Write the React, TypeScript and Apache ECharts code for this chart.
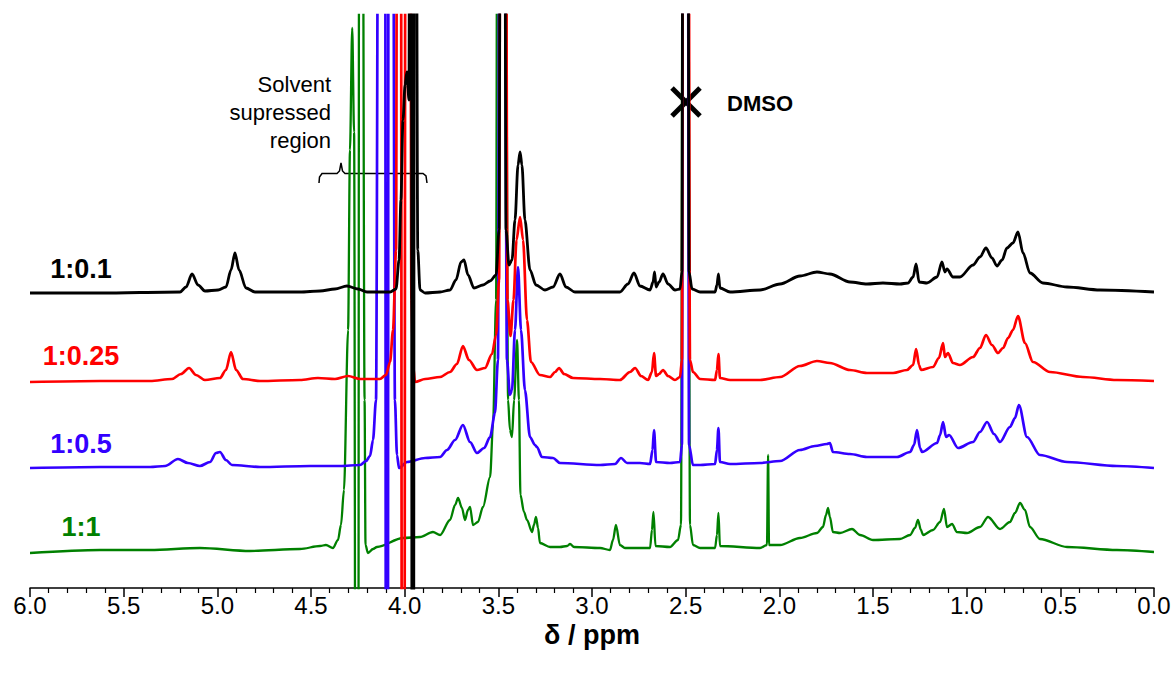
import React, { useEffect, useRef } from "react";
import * as echarts from "echarts";

// Series labels, colours and vertical stacking offsets (intensity units)
const traceLabels = ["1:0.1", "1:0.25", "1:0.5", "1:1"];
const traceColors = ["#000000", "#ff0000", "#3300ff", "#008000"];
const traceOffsets = [295, 207, 121, 36];

// [ppm, relative intensity]; +/-900 = off-scale (solvent suppressed / DMSO)
const trace01: [number, number][] = [
  [6.0, 0], [5.626, 0], [5.199, 1], [5.167, 6], [5.135, 19], [5.103, 8], [5.066, 2], [4.996, 3], [4.954, 6],
  [4.927, 23], [4.906, 40], [4.884, 23], [4.847, 5], [4.799, 1], [4.559, 1], [4.452, 2], [4.372, 4], [4.308, 7],
  [4.249, 4], [4.201, 1], [4.078, 1], [4.046, 4], [4.03, 33], [4.02, 93], [4.009, 173], [3.998, 208], [3.988, 221],
  [3.977, 193], [3.971, 900], [3.965, 900], [3.96, -900], [3.953, -900], [3.948, 900], [3.943, 900], [3.93, 43],
  [3.918, 3], [3.891, 0], [3.811, 1], [3.758, 3], [3.726, 13], [3.699, 31], [3.683, 33], [3.662, 18], [3.63, 5],
  [3.582, 8], [3.544, 12], [3.512, 18], [3.496, 63], [3.486, 900], [3.47, 900], [3.459, 63], [3.443, 28], [3.427, 33],
  [3.411, 73], [3.395, 128], [3.384, 141], [3.374, 128], [3.358, 73], [3.331, 23], [3.299, 8], [3.251, 3], [3.208, 6],
  [3.171, 19], [3.139, 6], [3.091, 1], [2.851, 1], [2.808, 9], [2.776, 20], [2.744, 7], [2.69, 3], [2.674, 11],
  [2.666, 21], [2.658, 6], [2.642, 11], [2.621, 19], [2.594, 9], [2.557, 3], [2.53, 4], [2.52, 21], [2.512, 900],
  [2.49, 900], [2.482, 21], [2.466, 4], [2.423, 1], [2.343, 1], [2.333, 8], [2.325, 19], [2.317, 5], [2.263, 1],
  [2.103, 3], [1.996, 9], [1.89, 17], [1.799, 21], [1.73, 19], [1.623, 11], [1.532, 9], [1.447, 10], [1.356, 9],
  [1.313, 10], [1.286, 16], [1.27, 29], [1.254, 11], [1.212, 10], [1.158, 16], [1.132, 31], [1.116, 21], [1.105, 24],
  [1.073, 16], [1.036, 16], [0.966, 28], [0.929, 36], [0.897, 45], [0.865, 35], [0.838, 27], [0.811, 33], [0.785, 45],
  [0.753, 50], [0.726, 61], [0.699, 40], [0.662, 20], [0.593, 10], [0.464, 6], [0.288, 3], [0.0, 1],
];

const trace025: [number, number][] = [
  [6.0, -1], [5.626, 0], [5.359, 0], [5.242, 2], [5.194, 7], [5.151, 13], [5.114, 6], [5.066, 1], [4.986, 3],
  [4.954, 11], [4.927, 29], [4.9, 11], [4.863, 2], [4.772, 0], [4.559, 1], [4.463, 3], [4.372, 2], [4.302, 5],
  [4.238, 2], [4.132, 2], [4.1, 6], [4.078, 19], [4.062, 51], [4.046, 131], [4.038, 900], [4.022, 900], [4.012, -900],
  [4.004, -900], [3.994, 900], [3.972, 900], [3.964, 81], [3.955, 16], [3.945, -1], [3.891, 2], [3.811, 4],
  [3.758, 9], [3.721, 17], [3.689, 35], [3.657, 21], [3.614, 11], [3.571, 13], [3.534, 27], [3.512, 46], [3.496, 101],
  [3.486, 900], [3.464, 900], [3.451, 81], [3.435, 45], [3.419, 81], [3.403, 141], [3.384, 164], [3.368, 141],
  [3.347, 61], [3.326, 19], [3.278, 6], [3.224, 4], [3.197, 9], [3.176, 13], [3.149, 7], [3.101, 3], [2.957, 2],
  [2.851, 1], [2.797, 9], [2.77, 13], [2.738, 5], [2.701, 1], [2.68, 9], [2.669, 28], [2.658, 5], [2.642, 7],
  [2.621, 11], [2.594, 5], [2.557, 1], [2.53, 4], [2.52, 21], [2.512, 900], [2.488, 900], [2.477, 21], [2.461, 9],
  [2.423, 2], [2.343, 1], [2.333, 11], [2.325, 27], [2.317, 3], [2.263, 1], [2.103, 1], [1.996, 4], [1.89, 15],
  [1.799, 20], [1.73, 18], [1.623, 11], [1.532, 8], [1.393, 8], [1.319, 11], [1.286, 16], [1.27, 32], [1.254, 16],
  [1.244, 11], [1.18, 14], [1.148, 23], [1.126, 38], [1.116, 24], [1.1, 28], [1.073, 18], [1.036, 16], [0.966, 24],
  [0.929, 33], [0.897, 46], [0.865, 36], [0.833, 28], [0.806, 33], [0.779, 43], [0.753, 51], [0.726, 65], [0.689, 38],
  [0.646, 19], [0.555, 9], [0.379, 4], [0.198, 1], [0.0, 0],
];

const trace05: [number, number][] = [
  [6.0, -1], [5.626, 0], [5.359, 0], [5.279, 1], [5.21, 8], [5.157, 4], [5.093, 1], [5.039, 5], [5.007, 14],
  [4.986, 15], [4.954, 7], [4.922, 2], [4.772, 0], [4.505, 1], [4.345, 1], [4.238, 2], [4.206, 6], [4.185, 11],
  [4.169, 27], [4.153, 67], [4.137, 900], [4.105, 900], [4.098, -900], [4.092, -900], [4.085, 900], [4.065, 900],
  [4.052, 67], [4.041, 12], [4.03, -1], [3.988, 5], [3.891, 9], [3.811, 10], [3.774, 17], [3.731, 27], [3.689, 42],
  [3.651, 25], [3.614, 14], [3.576, 19], [3.544, 30], [3.518, 54], [3.502, 107], [3.491, 900], [3.47, 900],
  [3.454, 107], [3.438, 72], [3.427, 77], [3.411, 137], [3.395, 200], [3.379, 137], [3.358, 77], [3.331, 30],
  [3.304, 22], [3.294, 20], [3.267, 10], [3.208, 9], [3.171, 4], [2.957, 2], [2.877, 3], [2.845, 9], [2.813, 4],
  [2.744, 4], [2.69, 3], [2.677, 17], [2.669, 37], [2.658, 5], [2.584, 4], [2.53, 5], [2.52, 22], [2.512, 900],
  [2.49, 900], [2.482, 22], [2.461, 2], [2.423, 2], [2.343, 3], [2.333, 17], [2.325, 39], [2.317, 5], [2.263, 3],
  [2.103, 4], [1.996, 6], [1.89, 17], [1.81, 21], [1.746, 23], [1.73, 24], [1.714, 15], [1.623, 13], [1.532, 10],
  [1.372, 10], [1.302, 15], [1.281, 22], [1.265, 37], [1.249, 19], [1.238, 15], [1.158, 24], [1.142, 32], [1.126, 45],
  [1.11, 30], [1.094, 32], [1.046, 19], [0.966, 25], [0.929, 35], [0.891, 45], [0.854, 33], [0.822, 25], [0.769, 40],
  [0.742, 49], [0.721, 62], [0.678, 30], [0.609, 12], [0.464, 5], [0.198, 1], [0.0, -1],
];

const trace1: [number, number][] = [
  [6.0, -1], [5.626, 2], [5.359, 2], [5.093, 4], [4.826, 1], [4.559, 3], [4.452, 6], [4.42, 7], [4.383, 4],
  [4.356, 12], [4.34, 27], [4.324, 62], [4.302, 222], [4.292, 402], [4.28, 524], [4.27, 420], [4.258, -900],
  [4.25, -900], [4.242, 900], [4.226, 900], [4.214, 152], [4.209, 7], [4.196, -1], [4.169, 3], [4.148, 5],
  [4.009, 14], [3.918, 15], [3.849, 20], [3.811, 17], [3.758, 32], [3.731, 47], [3.715, 54], [3.694, 44], [3.678, 32],
  [3.662, 42], [3.651, 45], [3.635, 27], [3.609, 30], [3.582, 45], [3.544, 75], [3.528, 129], [3.512, 252],
  [3.504, 900], [3.464, 900], [3.448, 152], [3.438, 122], [3.427, 115], [3.416, 152], [3.4, 212], [3.39, 152],
  [3.382, 57], [3.363, 40], [3.347, 32], [3.32, 20], [3.31, 27], [3.299, 35], [3.288, 24], [3.278, 9], [3.224, 5],
  [3.171, 5], [3.133, 6], [3.117, 8], [3.096, 5], [2.957, 4], [2.904, 2], [2.888, 12], [2.872, 27], [2.851, 7],
  [2.824, 4], [2.69, 4], [2.68, 22], [2.672, 40], [2.661, 6], [2.584, 5], [2.541, 12], [2.525, 27], [2.514, 900],
  [2.488, 900], [2.477, 27], [2.461, 7], [2.423, 4], [2.343, 4], [2.333, 17], [2.325, 39], [2.317, 6], [2.103, 4],
  [2.066, 7], [2.06, 97], [2.055, 7], [1.996, 7], [1.89, 14], [1.799, 19], [1.767, 25], [1.751, 37], [1.74, 44],
  [1.73, 35], [1.714, 20], [1.676, 19], [1.612, 23], [1.569, 17], [1.5, 12], [1.356, 13], [1.302, 17], [1.276, 24],
  [1.26, 32], [1.244, 22], [1.233, 17], [1.18, 22], [1.142, 30], [1.121, 43], [1.105, 25], [1.078, 28], [1.052, 20],
  [0.998, 19], [0.929, 25], [0.886, 35], [0.822, 23], [0.769, 30], [0.742, 39], [0.715, 49], [0.689, 42], [0.662, 25],
  [0.609, 13], [0.464, 5], [0.198, 2], [0.0, 0],
];

const traces = [trace01, trace025, trace05, trace1];
const traceLineWidths = [2.8, 2.7, 2.7, 2.3];

const FONT = '"Liberation Sans", Arial, Helvetica, sans-serif';

export default function App() {
  const ref = useRef<HTMLDivElement>(null);

  useEffect(() => {
    if (!ref.current) return;
    const chart = echarts.init(ref.current, null, { renderer: "svg" });

    // draw order: green first, black last (on top)
    const order = [3, 2, 1, 0];
    const series = order.map((i) => ({
      type: "line",
      name: traceLabels[i],
      data: traces[i].map(([p, v]) => [p, v + traceOffsets[i]]),
      symbol: "none",
      showSymbol: false,
      clip: true,
      smooth: 0.3,
      smoothMonotone: "x",
      lineStyle: { color: traceColors[i], width: traceLineWidths[i] },
      itemStyle: { color: traceColors[i] },
      emphasis: { disabled: true },
    }));

    const labelY = [269, 356, 444, 527];
    const labelGraphics = traceLabels.map((t, i) => ({
      type: "text",
      x: 81,
      y: labelY[i],
      style: {
        text: t,
        fill: traceColors[i],
        font: `bold 27px ${FONT}`,
        textAlign: "center",
        textVerticalAlign: "middle",
        align: "center",
        verticalAlign: "middle",
      },
    }));

    chart.setOption({
      animation: false,
      backgroundColor: "#ffffff",
      grid: { left: 30, right: 21, top: 15, bottom: 86 },
      xAxis: {
        type: "value",
        min: 0,
        max: 6,
        interval: 0.5,
        inverse: true,
        axisLine: { show: true, onZero: false, lineStyle: { color: "#000", width: 1.5 } },
        axisTick: { show: true, inside: false, length: 9, lineStyle: { color: "#000", width: 1.5 } },
        minorTick: { show: true, splitNumber: 5, length: 5, lineStyle: { color: "#000", width: 1.2 } },
        splitLine: { show: false },
        minorSplitLine: { show: false },
        axisLabel: {
          formatter: (v: number) => v.toFixed(1),
          fontSize: 24,
          fontFamily: FONT,
          color: "#000",
          margin: 5,
        },
        name: "δ / ppm",
        nameLocation: "middle",
        nameGap: 28,
        nameTextStyle: { fontSize: 27, fontWeight: "bold", fontFamily: FONT, color: "#000" },
      },
      yAxis: { type: "value", min: 0, max: 573, show: false },
      series,
      graphic: [
        ...labelGraphics,
        // DMSO cross marker
        { type: "line", shape: { x1: 672, y1: 88, x2: 700, y2: 116 }, style: { stroke: "#000", lineWidth: 5 } },
        { type: "line", shape: { x1: 700, y1: 88, x2: 672, y2: 116 }, style: { stroke: "#000", lineWidth: 5 } },
        {
          type: "text",
          x: 727,
          y: 103,
          style: {
            text: "DMSO",
            fill: "#000",
            font: `bold 22px ${FONT}`,
            textAlign: "left",
            textVerticalAlign: "middle",
            align: "left",
            verticalAlign: "middle",
          },
        },
        {
          type: "text",
          x: 331,
          y: 70,
          style: {
            text: "Solvent\nsupressed\nregion",
            fill: "#000",
            font: `22px ${FONT}`,
            lineHeight: 28,
            textAlign: "right",
            textVerticalAlign: "top",
            align: "right",
            verticalAlign: "top",
          },
        },
        {
          type: "polyline",
          shape: {
            points: [
              [319, 183], [319.5, 177], [322, 173.5], [337, 173.5], [339.5, 171], [341, 163], [342.5, 171],
              [345, 173.5], [423, 173.5], [426, 176], [427, 183],
            ],
          },
          style: { stroke: "#000", lineWidth: 1.5, fill: "none" },
        },
      ],
    });

    return () => chart.dispose();
  }, []);

  return (
    <div
      ref={ref}
      style={{ position: "fixed", left: 0, top: 0, width: 1175, height: 674, background: "#fff" }}
    />
  );
}
